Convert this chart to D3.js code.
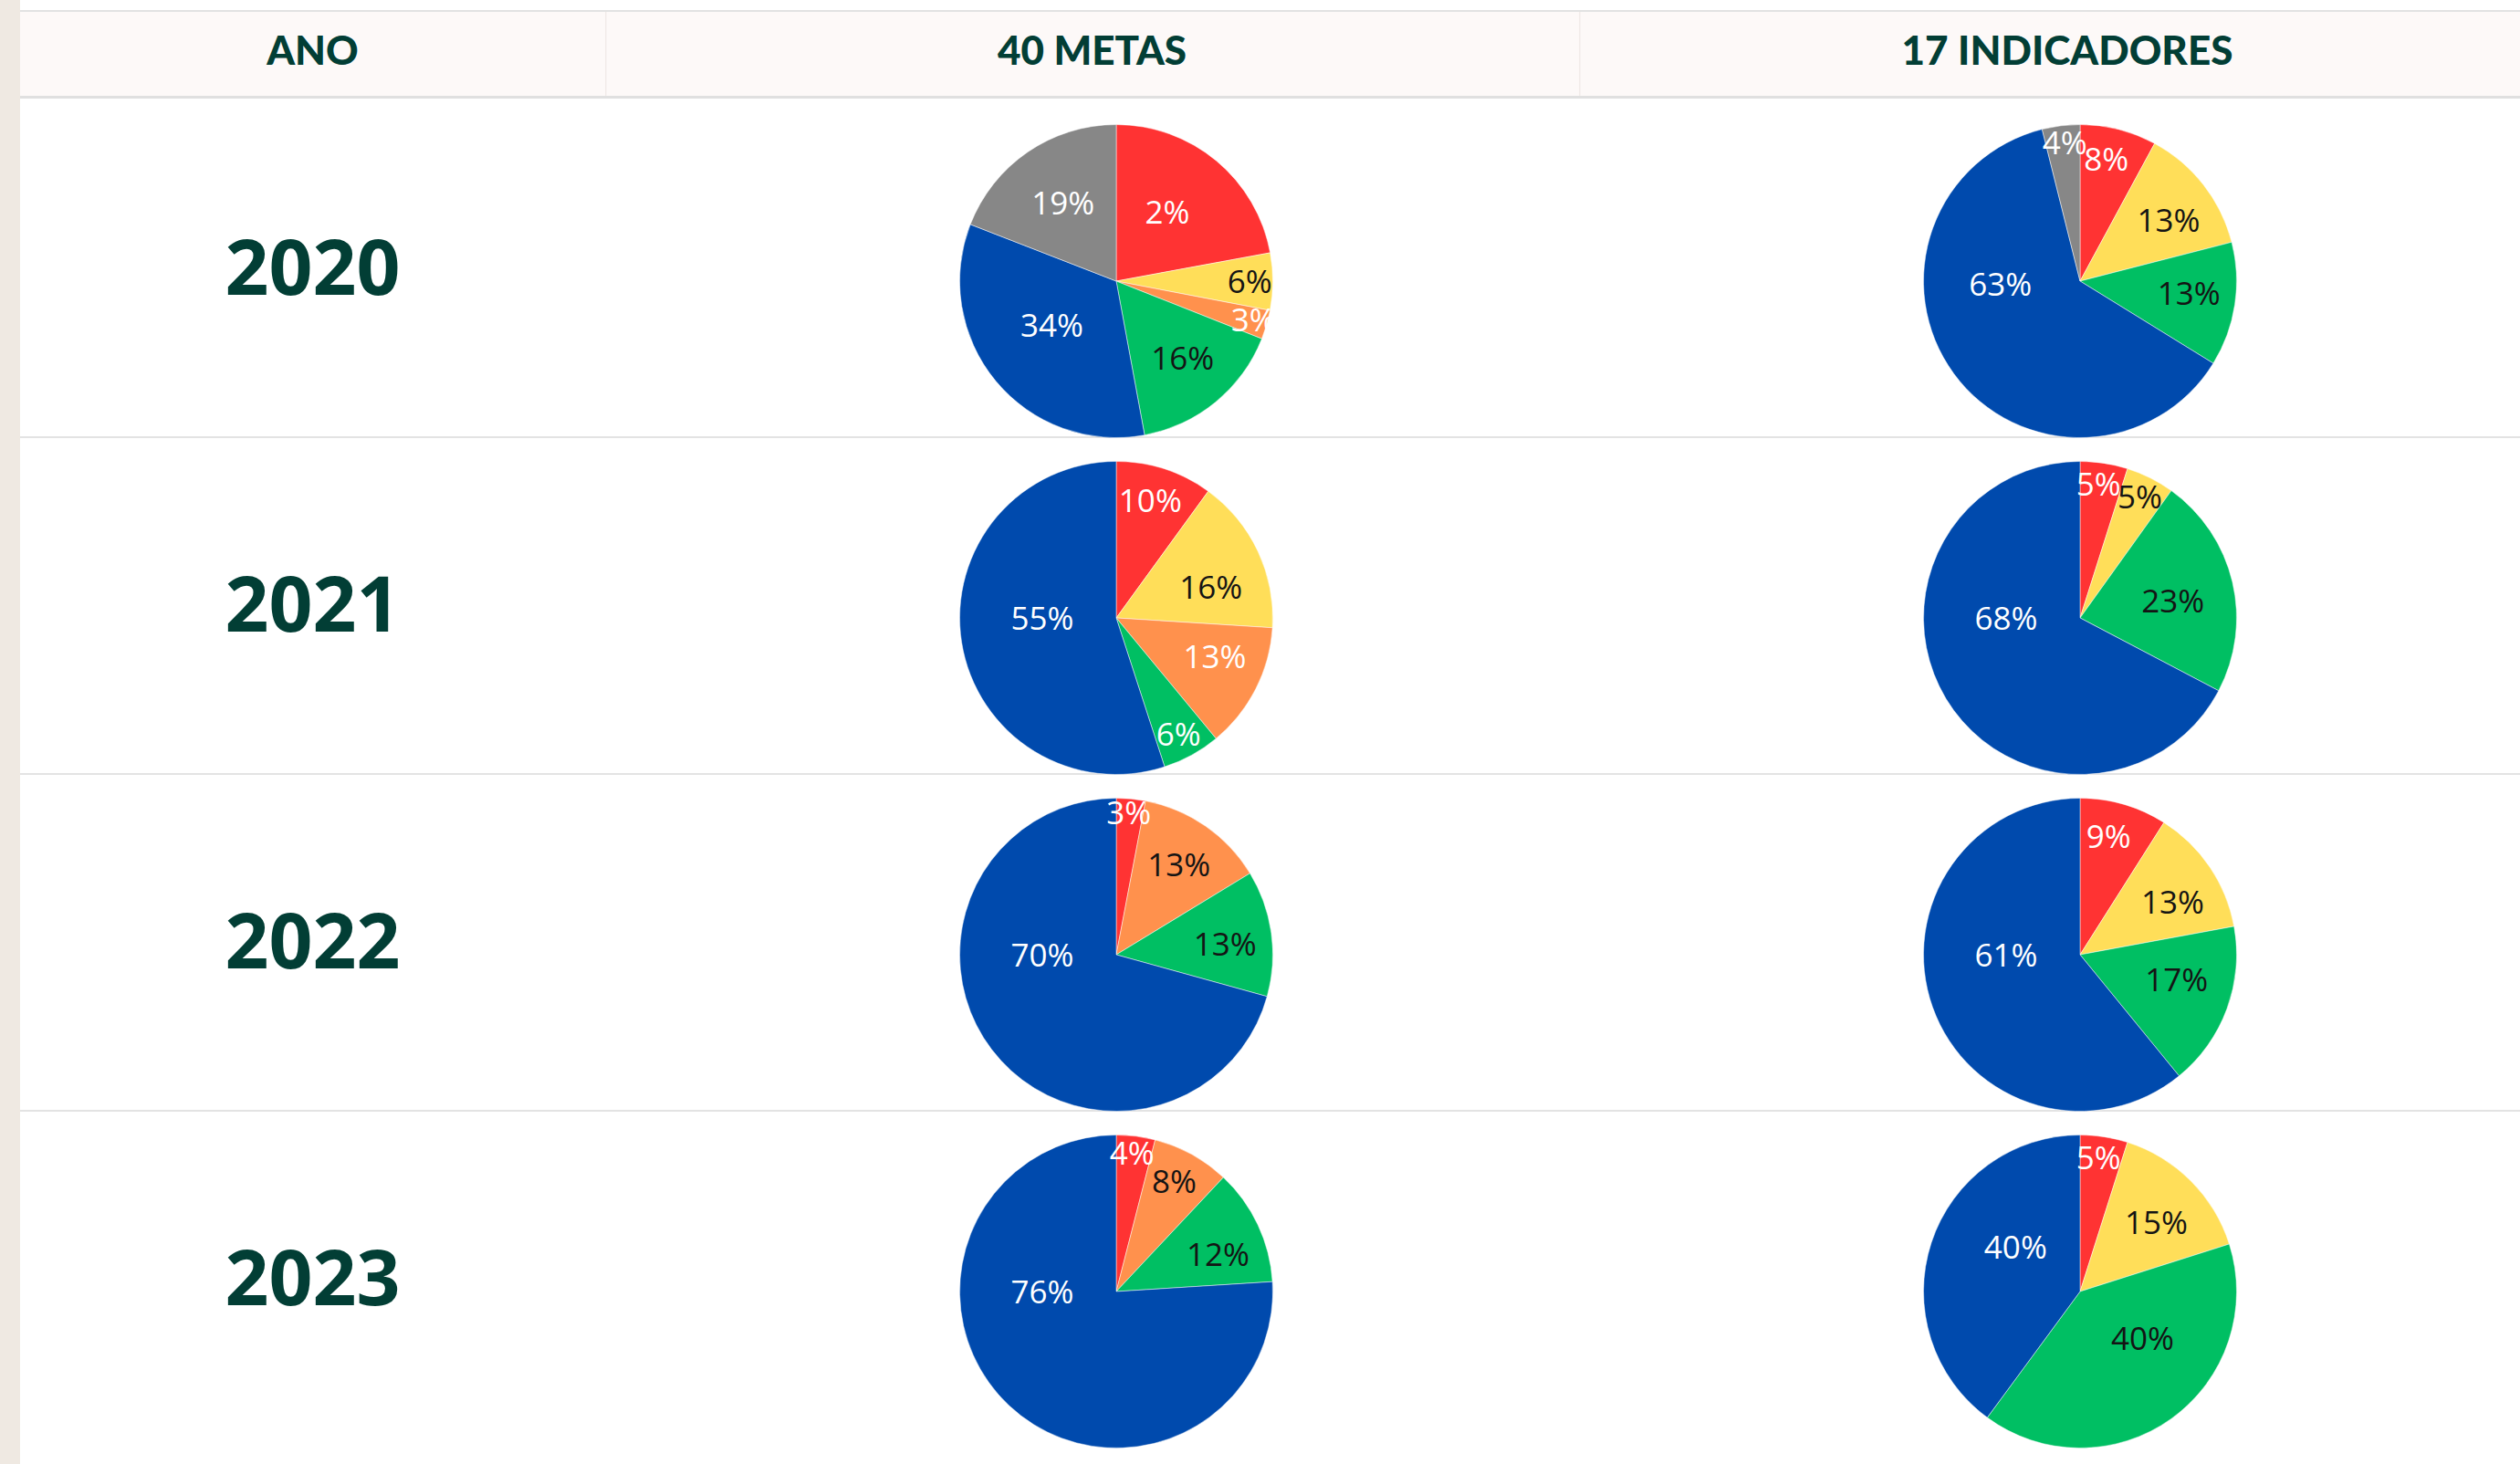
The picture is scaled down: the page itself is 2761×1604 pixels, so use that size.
<!DOCTYPE html>
<html><head><meta charset="utf-8">
<script src="https://cdn.jsdelivr.net/npm/d3@7/dist/d3.min.js"></script>
<style>
html,body{margin:0;padding:0;background:#fff;}
svg{display:block;}
</style></head>
<body>
<svg id="chart" width="2761" height="1604"></svg>
<script>
// ---------- DATA ----------
const headers = ["ANO", "40 METAS", "17 INDICADORES"];
const years = ["2020", "2021", "2022", "2023"];
const categories = ["Vermelho", "Amarelo", "Laranja", "Verde", "Azul", "Cinza"];
// slice shares (%) in category order, one array per year
const metasValues2020 = [22.1, 5.9, 3.0, 16.1, 33.8, 19.1];
const metasValues2021 = [10.0, 16.0, 13.0, 6.0, 55.0, 0];
const metasValues2022 = [3.0, 0, 13.3, 13.0, 70.7, 0];
const metasValues2023 = [4.0, 0, 8.0, 12.0, 76.0, 0];
const indValues2020 = [7.9, 13.1, 0, 12.8, 62.3, 3.9];
const indValues2021 = [4.9, 5.0, 0, 22.8, 67.3, 0];
const indValues2022 = [9.0, 13.1, 0, 17.0, 60.9, 0];
const indValues2023 = [4.9, 15.2, 0, 40.0, 39.9, 0];
// printed slice labels, as shown
const metasLabels2020 = ["2%", "6%", "3%", "16%", "34%", "19%"];
const metasLabels2021 = ["10%", "16%", "13%", "6%", "55%", ""];
const metasLabels2022 = ["3%", "", "13%", "13%", "70%", ""];
const metasLabels2023 = ["4%", "", "8%", "12%", "76%", ""];
const indLabels2020 = ["8%", "13%", "", "13%", "63%", "4%"];
const indLabels2021 = ["5%", "5%", "", "23%", "68%", ""];
const indLabels2022 = ["9%", "13%", "", "17%", "61%", ""];
const indLabels2023 = ["5%", "15%", "", "40%", "40%", ""];

// ---------- STYLE ----------
const sliceColors = ["#FF3333", "#FFDE59", "#FF914D", "#00BF63", "#004AAD", "#878787"];
const W = "#ffffff", K = "#141414";
const labelInk = {
  metas: [[W, K, W, K, W, W], [W, K, W, W, W, W], [W, K, K, K, W, W], [W, K, K, K, W, W]],
  ind:   [[W, K, W, K, W, W], [W, K, W, K, W, W], [W, K, W, K, W, W], [W, K, W, K, W, W]]
};
const dark = "#023e35";

const metasValues = [metasValues2020, metasValues2021, metasValues2022, metasValues2023];
const indValues = [indValues2020, indValues2021, indValues2022, indValues2023];
const metasLabels = [metasLabels2020, metasLabels2021, metasLabels2022, metasLabels2023];
const indLabels = [indLabels2020, indLabels2021, indLabels2022, indLabels2023];

// ---------- LAYOUT ----------
const svg = d3.select("#chart");
const width = 2761, height = 1604;
const stripW = 22, tableRight = 2800;
const colEdges = [stripW, 663, 1730, tableRight];
const headTop = 12, headBottom = 107;
const rowTop0 = 110, rowH = 369;
const R = 171.5;
const pieCx = { metas: 1223, ind: 2279 };

const color = d3.scaleOrdinal().domain(categories).range(sliceColors);
const rowY = d3.scaleBand().domain(years).range([rowTop0, rowTop0 + rowH * years.length]).paddingInner(0).paddingOuter(0);

svg.append("rect").attr("x", 0).attr("y", 0).attr("width", width).attr("height", height).attr("fill", "#fff");
svg.append("rect").attr("x", 0).attr("y", 0).attr("width", stripW).attr("height", height).attr("fill", "#efe9e2");

// header
svg.append("rect").attr("x", stripW).attr("y", headTop).attr("width", tableRight - stripW).attr("height", headBottom - headTop).attr("fill", "#fdf9f8");
svg.append("rect").attr("x", stripW).attr("y", headTop - 1).attr("width", tableRight - stripW).attr("height", 2).attr("fill", "#e2e2e2");
svg.append("rect").attr("x", stripW).attr("y", headBottom - 2).attr("width", tableRight - stripW).attr("height", 3).attr("fill", "#e0e0e0");
[colEdges[1], colEdges[2]].forEach(x => {
  svg.append("rect").attr("x", x).attr("y", headTop + 1).attr("width", 1.5).attr("height", headBottom - headTop - 3).attr("fill", "#f2ecea");
});
headers.forEach((h, i) => {
  svg.append("text")
    .attr("x", (colEdges[i] + colEdges[i + 1]) / 2)
    .attr("y", 71)
    .attr("text-anchor", "middle")
    .attr("font-family", "Lato, 'Open Sans', sans-serif")
    .attr("font-weight", 900)
    .attr("font-size", 44)
    .attr("fill", dark)
    .text(h);
});

// row separators
years.forEach((y, i) => {
  if (i > 0) svg.append("rect").attr("x", stripW).attr("y", rowY(y) - 1).attr("width", tableRight - stripW).attr("height", 2).attr("fill", "#e3e3e3");
});

// year labels
const yearSize = 84;
years.forEach(y => {
  svg.append("text")
    .attr("x", (colEdges[0] + colEdges[1]) / 2)
    .attr("y", rowY(y) + 183 + 0.357 * yearSize)
    .attr("text-anchor", "middle")
    .attr("font-family", "'Open Sans', sans-serif")
    .attr("font-weight", 700)
    .attr("font-size", yearSize)
    .attr("fill", dark)
    .text(y);
});

// ---------- PIES ----------
const pie = d3.pie().sort(null).value(d => d.v).startAngle(0).endAngle(2 * Math.PI);
const arc = d3.arc().innerRadius(0).outerRadius(R);
const fontSize = 35;

function angOf(x, y) {
  let a = Math.atan2(x, -y);
  if (a < 0) a += 2 * Math.PI;
  return a;
}
// side: 0 = no restriction, -1 = keep left of centre, +1 = keep right of centre
function inSlice(x, y, a0, a1, side) {
  if (side && x * side < -1e-9) return false;
  const rr = x * x + y * y;
  if (rr > R * R) return false;
  if (rr < 1e-9) return true;
  if (a1 - a0 > 2 * Math.PI - 1e-6) return true;
  const a = angOf(x, y);
  return a >= a0 - 1e-9 && a <= a1 + 1e-9;
}
function fits(cx, cy, hw, hh, a0, a1, side) {
  const nx = 12, ny = 6;
  for (let i = 0; i <= nx; i++) {
    const x = cx - hw + 2 * hw * i / nx;
    for (let j = 0; j <= ny; j++) {
      const y = cy - hh + 2 * hh * j / ny;
      if (!inSlice(x, y, a0, a1, side)) return false;
    }
  }
  return true;
}
function maxScale(cx, cy, hw, hh, a0, a1, side) {
  if (!fits(cx, cy, hw * 0.001, hh * 0.001, a0, a1, side)) return 0;
  let lo = 0, hi = 4;
  for (let k = 0; k < 14; k++) {
    const m = (lo + hi) / 2;
    if (fits(cx, cy, hw * m, hh * m, a0, a1, side)) lo = m; else hi = m;
  }
  return lo;
}
function search(a0, a1, score) {
  let best = { s: -Infinity, x: 0, y: 0, a: (a0 + a1) / 2, r: R * 0.6 };
  const NA = 48, NR = 36;
  for (let i = 1; i < NA; i++) {
    const a = a0 + (a1 - a0) * i / NA;
    for (let j = 1; j < NR; j++) {
      const r = R * j / NR;
      const x = r * Math.sin(a), y = -r * Math.cos(a);
      const s = score(x, y);
      if (s > best.s + 1e-9) best = { s, x, y, a, r };
    }
  }
  let da = (a1 - a0) / NA, dr = R / NR;
  for (let it = 0; it < 3; it++) {
    const base = best;
    for (let i = -4; i <= 4; i++) {
      for (let j = -4; j <= 4; j++) {
        const a = base.a + da * i / 4, r = base.r + dr * j / 4;
        if (a <= a0 || a >= a1 || r <= 0 || r >= R) continue;
        const x = r * Math.sin(a), y = -r * Math.cos(a);
        const s = score(x, y);
        if (s > best.s + 1e-9) best = { s, x, y, a, r };
      }
    }
    da /= 4; dr /= 4;
  }
  return best;
}
// centre of the largest copy of the label's line box that fits in the slice;
// slices wider than a half turn keep the label on the side of their middle
function bestSpot(a0, a1, hw, hh) {
  const mid = (a0 + a1) / 2;
  const side = (a1 - a0) > Math.PI ? (Math.sin(mid) < 0 ? -1 : 1) : 0;
  return search(a0, a1, (x, y) => maxScale(x, y, hw, hh, a0, a1, side));
}

const measurer = svg.append("text").attr("font-family", "'Open Sans', sans-serif").attr("font-size", fontSize).attr("x", -999).attr("y", -999);

function drawPie(key, values, labels, rowIndex) {
  const cx = pieCx[key], cy = rowY(years[rowIndex]) + 198;
  const data = categories.map((c, i) => ({ c, v: values[i], label: labels[i], ink: labelInk[key][rowIndex][i] }));
  const arcs = pie(data).filter(d => d.data.v > 0);
  const g = svg.append("g").attr("transform", `translate(${cx},${cy})`);
  g.selectAll("path").data(arcs).join("path")
    .attr("d", arc)
    .attr("fill", d => color(d.data.c))
    .attr("stroke", "#ffffff")
    .attr("stroke-opacity", 0.6)
    .attr("stroke-width", 0.8);
  arcs.forEach(d => {
    if (!d.data.label) return;
    measurer.text(d.data.label);
    const w = measurer.node().getComputedTextLength();
    const hw = w / 2, hh = fontSize * 0.68;
    const spot = bestSpot(d.startAngle, d.endAngle, hw, hh);
    g.append("text")
      .attr("x", spot.x)
      .attr("y", spot.y + fontSize * 0.36)
      .attr("text-anchor", "middle")
      .attr("font-family", "'Open Sans', sans-serif")
      .attr("font-size", fontSize)
      .attr("fill", d.data.ink)
      .text(d.data.label);
  });
}

years.forEach((y, i) => {
  drawPie("metas", metasValues[i], metasLabels[i], i);
  drawPie("ind", indValues[i], indLabels[i], i);
});
measurer.remove();
</script>
</body></html>
